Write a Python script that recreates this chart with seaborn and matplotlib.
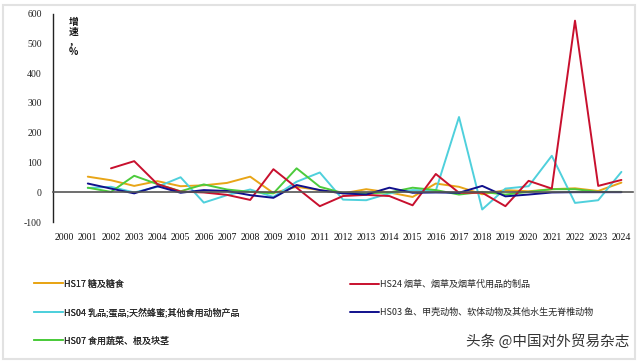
import matplotlib
matplotlib.use('Agg')
import matplotlib.pyplot as plt
from matplotlib.patches import Rectangle
import seaborn as sns
import numpy as np
import pandas as pd

years = list(range(2000, 2025))

hs17_years = list(range(2001, 2025))
hs17 = [53, 41, 22, 38, 21, 24, 32, 53, -2, 19, 8, -3, 11, 0, -15, 30, 19, -6, 8, 4, 11, 14, 5, 33]

hs24_years = list(range(2002, 2025))
hs24 = [81, 105, 28, 3, 0, -8, -25, 78, 16, -46, -12, -8, -12, -43, 62, -1, -1, -46, 39, 13, 576, 22, 42]

hs04_years = list(range(2001, 2025))
hs04 = [15, 19, 0, 19, 51, -34, -9, 10, -15, 36, 67, -24, -26, -3, 8, 6, 253, -57, 13, 21, 123, -35, -26, 69]

hs03_years = list(range(2001, 2025))
hs03 = [30, 13, -3, 21, -1, 8, 5, -9, -18, 25, 8, -3, -7, 16, -1, 0, -1, 22, -13, -7, 0, 1, 1, 1]

hs07_years = list(range(2001, 2025))
hs07 = [16, 2, 56, 28, 4, 27, 10, 2, -3, 81, 19, -2, -3, 0, 16, 8, -7, 2, -7, 2, 11, 11, 2, 2]

names = ['HS17 糖及糖食',
         'HS04 乳品;蛋品;天然蜂蜜;其他食用动物产品',
         'HS07 食用蔬菜、根及块茎',
         'HS24 烟草、烟草及烟草代用品的制品',
         'HS03 鱼、甲壳动物、软体动物及其他水生无脊椎动物']
colors = ['#E8A517', '#4FD0DC', '#4CCB3C', '#C8102E', '#10108C']

frames = []
for nm, yy, vv in zip(names, [hs17_years, hs04_years, hs07_years, hs24_years, hs03_years],
                      [hs17, hs04, hs07, hs24, hs03]):
    frames.append(pd.DataFrame({'year': yy, 'value': vv, 'series': nm}))
df = pd.concat(frames, ignore_index=True)

sns.set_style('white')
plt.rcParams['font.family'] = ['Noto Sans CJK SC', 'DejaVu Sans']

fig = plt.figure(figsize=(6.4, 3.63), dpi=100)
ax = fig.add_axes([53/640, 1-222.3/363, 580/640, (222.3-13.5)/363])

sns.lineplot(data=df, x='year', y='value', hue='series', hue_order=names,
             palette=dict(zip(names, colors)), linewidth=1.4, ax=ax, legend=False,
             estimator=None)

ax.set_xlim(1999.5, 2024.5)
ax.set_ylim(-100, 600)
ax.set_xlabel('')
ax.set_ylabel('')

for s in ['top', 'right']:
    ax.spines[s].set_visible(False)
ax.spines['bottom'].set_position(('data', 0))
ax.spines['bottom'].set_color('#555555')
ax.spines['bottom'].set_linewidth(1.2)
ax.spines['left'].set_color('#222222')
ax.spines['left'].set_linewidth(1.0)

ax.set_yticks(np.arange(-100, 601, 100))
ax.set_yticklabels([str(v) for v in range(-100, 601, 100)], family='Liberation Serif', fontsize=7)
ax.tick_params(axis='y', direction='in', length=3, width=0.8, pad=8, colors='#222222')

ax.set_xticks(np.arange(1999.5, 2025, 1))
ax.set_xticklabels([])
ax.set_xticks(years, minor=True)
ax.set_xticklabels([str(y) for y in years], minor=True, family='Liberation Serif', fontsize=7)
ax.tick_params(axis='x', which='major', direction='in', length=3, width=0.8, colors='#333333')
ax.tick_params(axis='x', which='minor', length=0, pad=29, labelcolor='#111111')

ax.text(0.035, 0.985, '增\n速\n，\n%', transform=ax.transAxes, ha='center', va='top',
        fontsize=7, fontweight='bold', linespacing=1.0, color='#111111')

handles = [plt.Line2D([], [], color=c, lw=1.4) for c in colors]
leg1 = fig.legend(handles[:3], names[:3], loc='upper left', bbox_to_anchor=(30/640, 1-276/363),
                  frameon=False, fontsize=6.5, handlelength=3.2, handletextpad=0.2,
                  labelspacing=2.1, borderaxespad=0)
fig.add_artist(leg1)
fig.legend(handles[3:], names[3:], loc='upper left', bbox_to_anchor=(346/640, 1-276/363),
           frameon=False, fontsize=6.5, handlelength=3.2, handletextpad=0.2,
           labelspacing=2.1, borderaxespad=0)

fig.text(629/640, 1-341/363, '头条 @中国对外贸易杂志', ha='right', va='center',
         fontsize=10.5, color='#333333')

fig.patches.append(Rectangle((3/640, 4/363), 632/640, 354/363, transform=fig.transFigure,
                             fill=False, edgecolor='#E2E2E2', linewidth=1.5))

fig.savefig('out.png', dpi=100, facecolor='white')
